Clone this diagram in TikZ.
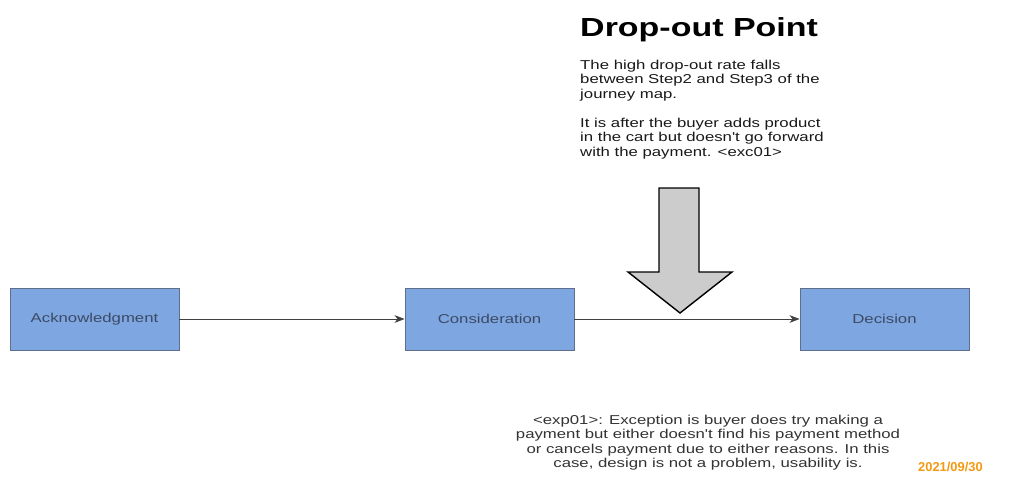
\documentclass[tikz,border=0pt]{standalone}
\usepackage{fontspec}
\setmainfont{Liberation Sans}[FakeStretch=1.3,Ligatures=TeXOff]
\newfontfamily\datefont{Liberation Sans}
\usetikzlibrary{arrows.meta}
\definecolor{stepfill}{HTML}{7EA6E0}
\definecolor{stepline}{HTML}{5F6E8A}
\definecolor{steptext}{HTML}{3C4A66}
\definecolor{dropfill}{HTML}{CCCCCC}
\definecolor{noteorange}{HTML}{F39A12}
\tikzset{
  stepbox/.style={draw=stepline,fill=stepfill,text=steptext,line width=0.8pt,
    minimum width=5.07cm,minimum height=1.86cm,inner sep=0pt,
    font=\fontsize{11}{13}\selectfont},
  flow/.style={draw=black!75,line width=0.6pt,-{Stealth[length=3mm,width=2.3mm,inset=0.9mm]}},
  notetext/.style={inner sep=0pt,font=\fontsize{11}{12.3}\selectfont},
}
\begin{document}
\begin{tikzpicture}[x=0.03cm,y=-0.03cm]
    \useasboundingbox[fill=white] (0,0) rectangle (1015,480);
    %% Steps
    \node[stepbox] (ack) at (94.5,319) {Acknowledgment};
    \node[stepbox] (cons) at (489.5,319) {Consideration};
    \node[stepbox] (dec) at (884.5,319) {Decision};
    %% Flow
    \draw[flow] (ack.east) -- (cons.west);
    \draw[flow] (cons.east) -- (dec.west);
    %% Drop-out arrow
    \draw[line width=1.2pt,fill=dropfill,line join=miter] (659,188) -- (699,188) -- (699,272) -- (732,272)
        -- (680,313) -- (628,272) -- (659,272) -- cycle;
    %% Notes
    \node[anchor=base west,inner sep=0pt,font=\bfseries\fontsize{22.3}{26}\selectfont] (title) at (580,37) {Drop-out Point};
    \node[notetext,anchor=north west,align=left,text=black!90] (note) at (580,60)
        {The high drop-out rate falls\\between Step2 and Step3 of the\\journey map.\\[12.3pt]
         It is after the buyer adds product\\in the cart but doesn't go forward\\with the payment. <exc01>};
    \node[notetext,anchor=north,align=center,text=black!80] (exc) at (708,415)
        {<exp01>: Exception is buyer does try making a\\payment but either doesn't find his payment method\\
         or cancels payment due to either reasons. In this\\case, design is not a problem, usability is.};
    \node[anchor=base west,inner sep=0pt,text=noteorange,font=\datefont\bfseries\fontsize{11}{13}\selectfont] (date) at (918,471) {2021/09/30};
\end{tikzpicture}
\end{document}
